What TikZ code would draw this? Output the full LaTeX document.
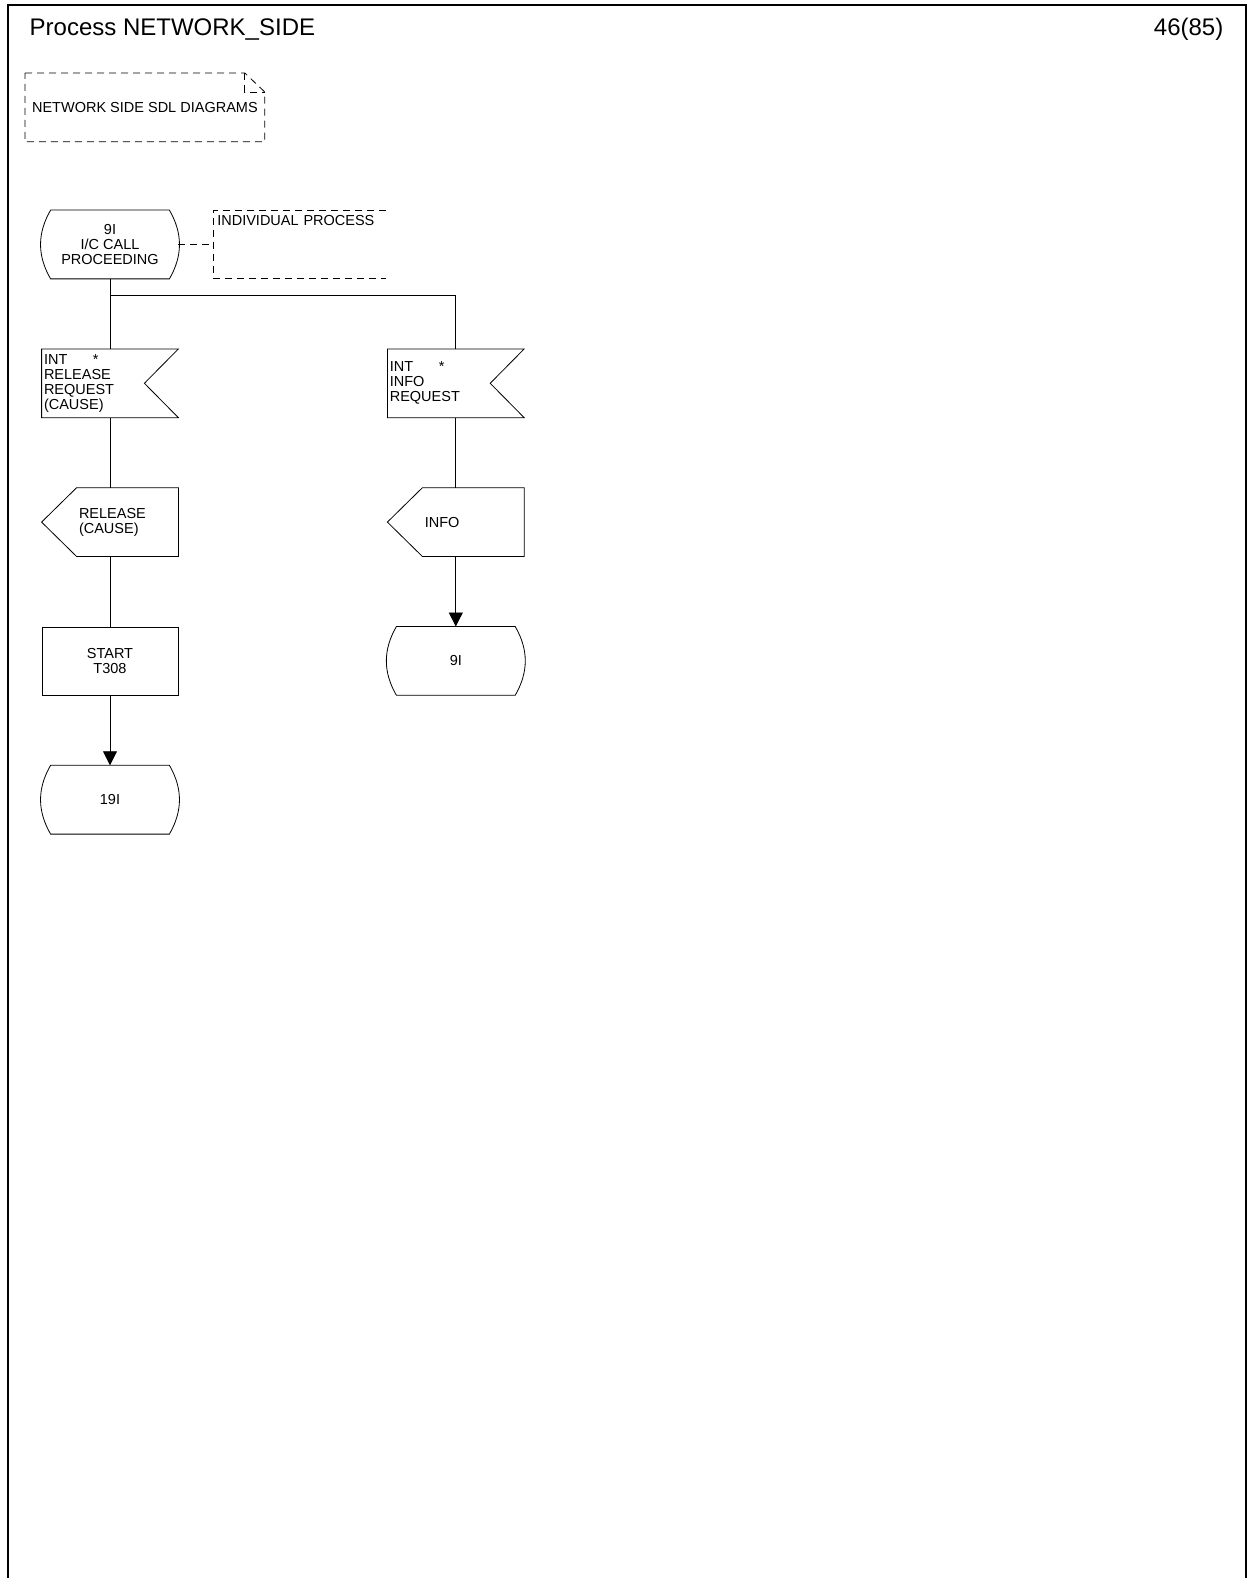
\documentclass[tikz,border=0pt]{standalone}
\usepackage{fontspec}
\setmainfont{Liberation Sans}
\usepackage{tikz}
\usetikzlibrary{arrows.meta,positioning}

\begin{document}
\begin{tikzpicture}[node distance=70pt, line width=0.8pt, >={Triangle[length=14pt,width=14pt]},
  every node/.style={font=\fontsize{14.5}{15}\selectfont, align=center},
  sdlstate/.style={minimum width=136pt,minimum height=68pt,inner sep=0pt},
  sdlin/.style={minimum height=68pt,text width=132pt,inner xsep=2pt,align=left},
  sdlout/.style={minimum height=68pt,text width=97pt,inner xsep=2pt,align=left},
  sdltask/.style={draw,minimum width=136pt,minimum height=68pt},
  cmtline/.style={dash pattern=on 7pt off 5pt}]
\useasboundingbox (0,0) rectangle (1248pt,-1578pt);
\draw[line width=1.2pt] (8pt,-1578pt) -- (8pt,-5pt) -- (1246pt,-5pt) -- (1246pt,-1578pt);
\node[anchor=base west,font=\fontsize{24}{28}\selectfont] (title) at (26pt,-36pt) {Process NETWORK\_SIDE};
\node[anchor=base east,font=\fontsize{24}{28}\selectfont] (page) at (1227pt,-36pt) {46(85)};

% text symbol
\node[minimum width=239pt,minimum height=68pt,inner xsep=6pt,anchor=north west] (note) at (25pt,-73pt) {NETWORK SIDE SDL DIAGRAMS};
\draw[cmtline] (note.north west) -- ([xshift=-20pt]note.north east) -- ([yshift=-19pt]note.north east) -- (note.south east) -- (note.south west) -- cycle;
\draw[cmtline] ([xshift=-20pt]note.north east) |- ([yshift=-19pt]note.north east);

% transitions
\node[sdlstate] (st1) at (110pt,-244.5pt) {9I\\I/C CALL\\PROCEEDING};
\node[sdlin,below=of st1] (in1) {\makebox[49pt][l]{INT}*\\RELEASE\\REQUEST\\(CAUSE)};
\node[sdlin,right=209pt of in1] (in2) {\makebox[49pt][l]{INT}*\\INFO\\REQUEST};
\node[sdlout,below=of in1.south east,anchor=north east] (out1) {RELEASE\\(CAUSE)};
\node[sdltask,below=of out1.south east,anchor=north east] (t308) {START\\T308};
\node[sdlstate,below=of t308] (st2) {19I};
\node[sdlout,below=of in2.south east,anchor=north east] (out2) {INFO};
\node[sdlstate,below=of out2.south east,anchor=north east] (st3) {9I};

% comment
\node[text width=165pt,inner xsep=3.5pt,inner ysep=3pt,text height=12pt,text depth=49pt,align=left,right=35pt of st1] (cmt) {INDIVIDUAL PROCESS};
\draw[cmtline] (st1.east) -- (cmt.west);
\draw[cmtline] (cmt.north east) -- (cmt.north west) -- (cmt.south west) -- (cmt.south east);

% outlines
\foreach \n in {st1,st2,st3}
  \draw ([xshift=9pt]\n.north west) -- ([xshift=-9pt]\n.north east) to[out=-60,in=60] ([xshift=-9pt]\n.south east)
    -- ([xshift=9pt]\n.south west) to[out=120,in=240] ([xshift=9pt]\n.north west) -- cycle;
\foreach \n in {in1,in2}
  \draw (\n.north west) -- (\n.north east) -- ([xshift=-34pt]\n.east) -- (\n.south east) -- (\n.south west) -- cycle;
\foreach \n in {out1,out2}
  \draw (\n.north west) -- (\n.north east) -- (\n.south east) -- (\n.south west) -- ([xshift=-35pt]\n.west) -- cycle;

% flow lines
\coordinate[below=17pt of st1] (fork);
\draw (st1.south) -- (in1.north);
\draw (fork) -| (in2.north);
\draw (in1.south) -- (in1.south |- out1.north);
\draw (t308.north |- out1.south) -- (t308.north);
\draw[->] (t308.south) -- (st2.north);
\draw (in2.south) -- (in2.south |- out2.north);
\draw[->] (st3.north |- out2.south) -- (st3.north);
\end{tikzpicture}
\end{document}
